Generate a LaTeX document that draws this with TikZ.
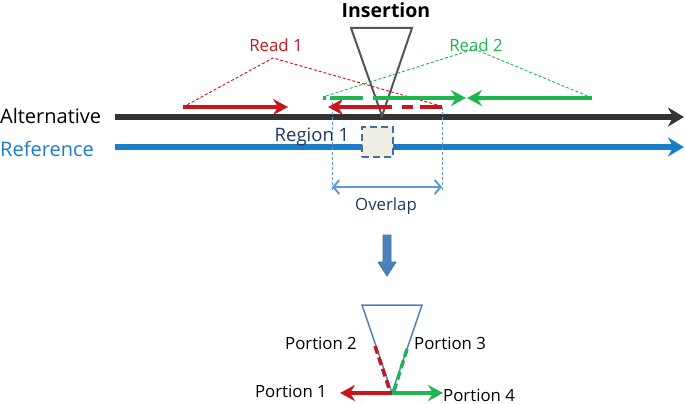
\documentclass[tikz,border=0pt]{standalone}
\usepackage{fontspec}
\setmainfont{Open Sans}
\usetikzlibrary{arrows.meta}
\definecolor{cred}{HTML}{C8161D}
\definecolor{cgreen}{HTML}{1FB550}
\definecolor{cblack}{HTML}{333333}
\definecolor{cref}{HTML}{1A7DC6}
\definecolor{cnavy}{HTML}{1F3864}
\definecolor{clblue}{HTML}{5B9BD5}
\definecolor{csteel}{HTML}{4F81BD}
\definecolor{csteeldk}{HTML}{41719C}
\definecolor{cgray}{HTML}{555555}
\definecolor{cbeige}{HTML}{EEEEE2}
\begin{document}
\begin{tikzpicture}[x=1pt,y=-1pt,
  lbl/.style={inner sep=0pt, font=\fontsize{20}{20}\selectfont},
  sml/.style={inner sep=0pt, font=\fontsize{16.8}{17}\selectfont},
  readarrow/.style={line width=4pt, -{Stealth[length=15pt,width=16pt,inset=5pt]}},
  thickdash/.style={line width=4pt},
  guide/.style={line width=0.9pt, dash pattern=on 3pt off 2pt},
  vguide/.style={clblue, line width=0.8pt, dash pattern=on 3pt off 2pt}]
\useasboundingbox (0,0) rectangle (685,404);

% main lines
\coordinate (altS) at (115,117); \coordinate (altE) at (684,117);
\coordinate (refS) at (115,147); \coordinate (refE) at (684,147);
\draw[cblack, line width=6.5pt, -{Stealth[length=16pt,width=19pt]}] (altS) -- (altE);
\draw[cref, line width=6pt, -{Stealth[length=16pt,width=19pt]}] (refS) -- (refE);
\node[lbl, anchor=west] (altlbl) at (0,116) {Alternative};
\node[lbl, anchor=west, text=cref] (reflbl) at (0,149) {Reference};

% insertion
\node[inner sep=0pt, font=\fontsize{19.5}{20}\selectfont\bfseries] (ins) at (386,10) {Insertion};
\coordinate (t1) at (351,28); \coordinate (t2) at (412,28); \coordinate (t3) at (382,116);
\draw[cgray, line width=2pt] (t1) -- (t2) -- (t3) -- cycle;

% region 1
\node[draw=csteeldk, fill=cbeige, line width=2.5pt, dash pattern=on 7pt off 4pt,
      minimum width=31pt, minimum height=30pt, inner sep=0pt] (reg) at (377.5,142) {};
\node[inner sep=0pt, font=\fontsize{18.5}{19}\selectfont, text=cnavy] (reglbl) at (312,137) {Region 1};

% overlap guides
\coordinate (ovL) at (332,187); \coordinate (ovR) at (442,187);
\coordinate (ovLt) at (332,97); \coordinate (ovRt) at (442,107);
\draw[vguide] (ovLt) -- (332,192);
\draw[vguide] (ovRt) -- (442,192);
\draw[clblue, line width=2pt, {Straight Barb[length=6pt,width=14pt]}-{Straight Barb[length=6pt,width=14pt]}] (ovL) -- (ovR);
\node[sml, text=cnavy] (ovlbl) at (386,206) {Overlap};

% read 1
\coordinate (r1a) at (183,107); \coordinate (r1b) at (288,107);
\coordinate (r1c) at (392,107); \coordinate (r1d) at (328,107);
\coordinate (r1e) at (442,107); \coordinate (r1p) at (273,58);
\draw[cred, guide] (r1a) -- (r1p) -- (441,106);
\draw[cred, readarrow] (r1a) -- (r1b);
\draw[cred, readarrow] (r1c) -- (r1d);
\draw[cred, thickdash] (402,107) -- (413,107);
\draw[cred, thickdash] (420,107) -- (r1e);
\node[sml, text=cred] (read1) at (276,45) {Read 1};

% read 2
\coordinate (g1) at (373,98); \coordinate (g2) at (466,98);
\coordinate (g3) at (592,98); \coordinate (g4) at (467,98);
\coordinate (g2p) at (474,49);
\draw[cgreen, guide] (326,96) -- (g2p) -- (590,97);
\draw[cgreen, thickdash] (323,98) -- (326,98);
\draw[cgreen, thickdash] (330,98) -- (363,98);
\draw[cgreen, readarrow] (g1) -- (g2);
\draw[cgreen, readarrow] (g3) -- (g4);
\node[sml, text=cgreen] (read2) at (476,45) {Read 2};

% down arrow
\draw[fill=csteel, draw=csteeldk, line width=0.8pt] (383,235) -- (391,235) -- (391,262) -- (396,262) -- (387,276) -- (378,262) -- (383,262) -- cycle;

% bottom triangle
\coordinate (b1) at (362,305); \coordinate (b2) at (422,305); \coordinate (b3) at (392,393);
\draw[csteel, line width=1.5pt] (b1) -- (b2) -- (b3) -- cycle;
\draw[cred, line width=3.5pt, dash pattern=on 8pt off 4pt] (375,346) -- (390,391);
\draw[cgreen, line width=3.5pt, dash pattern=on 8pt off 4pt] (407,349) -- (394,391);
\coordinate (p1) at (340,393); \coordinate (p4) at (443,393);
\draw[cred, readarrow] (b3) -- (p1);
\draw[cgreen, readarrow] (b3) -- (p4);
\node[sml] (por2) at (321,343) {Portion 2};
\node[sml, anchor=west] (por3) at (414,343) {Portion 3};
\node[sml, anchor=east] (por1) at (327,391) {Portion 1};
\node[sml, anchor=west] (por4) at (443,395) {Portion 4};
\end{tikzpicture}
\end{document}
